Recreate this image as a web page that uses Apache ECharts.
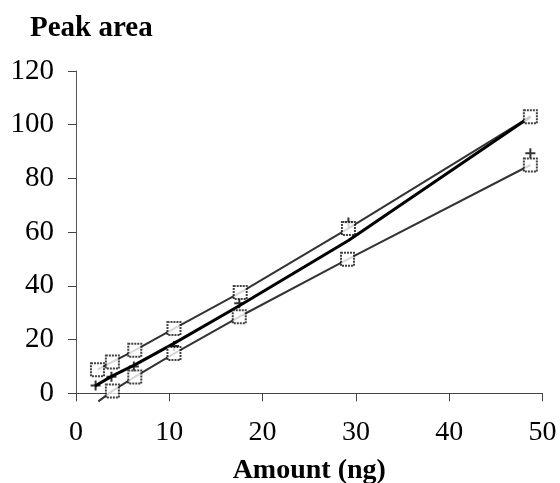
<!DOCTYPE html>
<html>
<head>
<meta charset="utf-8">
<script src="https://cdn.jsdelivr.net/npm/echarts@6/dist/echarts.min.js"></script>
<style>
  html, body { margin: 0; padding: 0; background: #fff; }
  #chart { width: 560px; height: 483px; }
</style>
</head>
<body>
<div id="chart"></div>
<script>
// Valeurs (quantité en ng, aire du pic)
const amountUpper = [2.3, 3.9, 6.3, 10.5, 17.6, 29.2, 48.7];
const areaUpper = [8.8, 11.7, 16.0, 24.1, 37.5, 61.4, 103.0];

const amountLower = [3.9, 6.3, 10.5, 17.5, 29.1, 48.7];
const areaLower = [0.9, 6.1, 14.8, 28.5, 49.9, 85.0];

// La droite du bas démarre un peu sous l'axe
const lowerLineX = [2.4, 3.9, 6.3, 10.5, 17.5, 29.1, 48.7];
const lowerLineY = [-3.0, 0.9, 6.1, 14.8, 28.5, 49.9, 85.0];

const amountPlus = [2.1, 3.8, 6.2, 10.5, 17.5, 29.2, 48.7];
const areaPlus = [2.9, 6.2, 10.0, 17.6, 33.5, 63.6, 89.4];

// Courbe épaisse
const thickLineX = [2.04, 3.9, 6.3, 10.5, 17.5, 29.2, 48.7];
const thickLineY = [2.7, 6.5, 10.6, 18.6, 32.6, 56.9, 103.0];

const xTicks = { min: 0, max: 50, interval: 10 };
const yTicks = { min: 0, max: 120, interval: 20 };

const font = "Liberation Serif";

function pairs(xs, ys)
{
    return xs.map((x, i) => [x, ys[i]]);
}

const plusPath = "path://M4,0 H6 V4 H10 V6 H6 V10 H4 V6 H0 V4 H4 Z";

const squareStyle = {
    color: "#fff",
    borderColor: "#111",
    borderWidth: 2,
    borderType: [2, 1]
};

const chart = echarts.init(document.getElementById("chart"));

chart.setOption({
    animation: false,
    backgroundColor: "#fff",
    title: {
        text: "Peak area",
        left: 25,
        top: 9,
        textStyle: { fontFamily: font, fontWeight: "bold", fontSize: 29, color: "#000" }
    },
    grid: {
        left: 76,
        right: 17.5,
        top: 71,
        bottom: 89.7,
        containLabel: false,
        outerBoundsMode: "none"
    },
    xAxis: {
        type: "value",
        ...xTicks,
        name: "Amount (ng)",
        nameLocation: "middle",
        nameGap: 63,
        nameTextStyle: { fontFamily: font, fontWeight: "bold", fontSize: 28, color: "#000", lineHeight: 28 },
        axisLine: { lineStyle: { color: "#444", width: 1 } },
        axisTick: { show: true, inside: false, length: 8, lineStyle: { color: "#444" } },
        axisLabel: { fontFamily: font, fontSize: 28, color: "#000", margin: 25, lineHeight: 28 },
        splitLine: { show: false }
    },
    yAxis: {
        type: "value",
        ...yTicks,
        axisLine: { show: true, lineStyle: { color: "#555", width: 1 } },
        axisTick: { show: true, inside: false, length: 8, lineStyle: { color: "#444" } },
        axisLabel: { fontFamily: font, fontSize: 29, color: "#000", margin: 22 },
        splitLine: { show: false }
    },
    series: [
        {
            name: "upper_line",
            type: "line",
            data: pairs(amountUpper, areaUpper),
            showSymbol: false,
            clip: false,
            lineStyle: { color: "#333", width: 2 },
            z: 2
        },
        {
            name: "lower_line",
            type: "line",
            data: pairs(lowerLineX, lowerLineY),
            showSymbol: false,
            clip: false,
            lineStyle: { color: "#333", width: 2 },
            z: 2
        },
        {
            name: "thick_line",
            type: "line",
            data: pairs(thickLineX, thickLineY),
            showSymbol: false,
            clip: false,
            lineStyle: { color: "#000", width: 3 },
            z: 3
        },
        {
            name: "plus_points",
            type: "scatter",
            data: pairs(amountPlus, areaPlus),
            symbol: plusPath,
            symbolSize: 10,
            itemStyle: { color: "#000" },
            z: 4
        },
        {
            name: "upper_squares",
            type: "scatter",
            data: pairs(amountUpper, areaUpper),
            symbol: "rect",
            symbolSize: 13,
            itemStyle: squareStyle,
            z: 5
        },
        {
            name: "lower_squares",
            type: "scatter",
            data: pairs(amountLower, areaLower),
            symbol: "rect",
            symbolSize: 13,
            itemStyle: squareStyle,
            z: 5
        }
    ]
});
</script>
</body>
</html>
